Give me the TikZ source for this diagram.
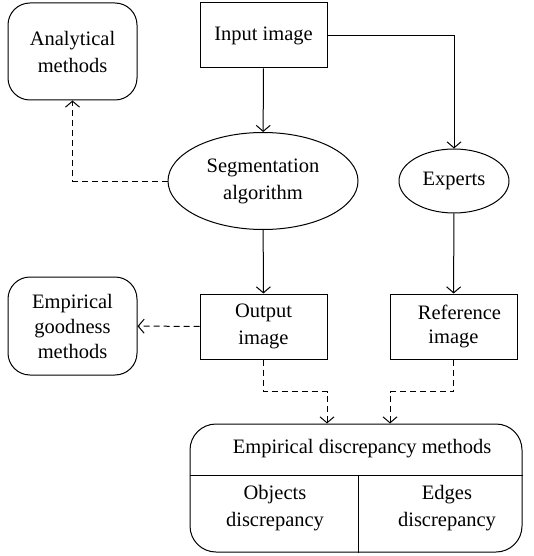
\documentclass[tikz,border=0pt]{standalone}
\usepackage{fontspec}
\setmainfont{Liberation Serif}
\usetikzlibrary{shapes.geometric,arrows.meta}
\tikzset{
  plainbox/.style ={draw, rectangle, minimum width=127, minimum height=65, inner sep=0, align=center},
  roundbox/.style ={draw, rectangle, rounded corners=22, minimum width=129, minimum height=97, inner sep=0, align=center},
  oval/.style ={draw, ellipse, inner sep=0, align=center},
  flow/.style ={-{Straight Barb[length=6pt,width=14pt]}},
  dashflow/.style ={flow, dash pattern=on 6pt off 4pt}
}
\begin{document}
\begin{tikzpicture}[x=1pt, y=-1pt, line width=1pt,
  font=\fontsize{20.5}{27}\selectfont]
\useasboundingbox (0,0) rectangle (533,556);
% boxes
\node[roundbox] (analytic) at (72.5,51.5) {Analytical\\methods};
\node[plainbox] (input) at (263.5,35.5) {Input image};
\node[oval, minimum width=190, minimum height=97] (seg) at (263,181) {Segmentation\\algorithm};
\node[oval, minimum width=110, minimum height=64] (experts) at (454,181) {Experts};
\node[plainbox] (output) at (263.5,326.5) {Output\\image};
\node[plainbox, font=\fontsize{20.5}{24}\selectfont] (refimg) at (453.5,326.5) {\hspace*{12pt}Reference\\image};
\node[roundbox, minimum height=98, font=\fontsize{20.5}{25}\selectfont] (goodness) at (72.5,326) {Empirical\\goodness\\methods};
\node[draw, rectangle, rounded corners=26, minimum width=332, minimum height=128] (disc) at (356,488) {};
\coordinate (split) at (358,475);
\draw (split -| disc.west) -- (split -| disc.east);
\draw (split) -- (split |- disc.south);
\node (disctitle) at (362,449) {Empirical discrepancy methods};
\node[align=center] (objects) at (275,508) {Objects\\discrepancy};
\node[align=center] (edges) at (447,508) {Edges\\discrepancy};
% connectors
\draw[flow] (input) -- (seg);
\draw[flow] (input.east) -| (experts.north);
\draw[dashflow] (seg.west) -| (analytic.south);
\draw[flow] (seg) -- (output);
\draw[flow] (experts) -- (refimg);
\draw[dashflow] (output) -- (goodness);
\draw[dashflow] (output.south) -- ++(0,32) -| ([xshift=-29]disc.north);
\draw[dashflow] (refimg.south) -- ++(0,32) -| ([xshift=34]disc.north);
\end{tikzpicture}
\end{document}
